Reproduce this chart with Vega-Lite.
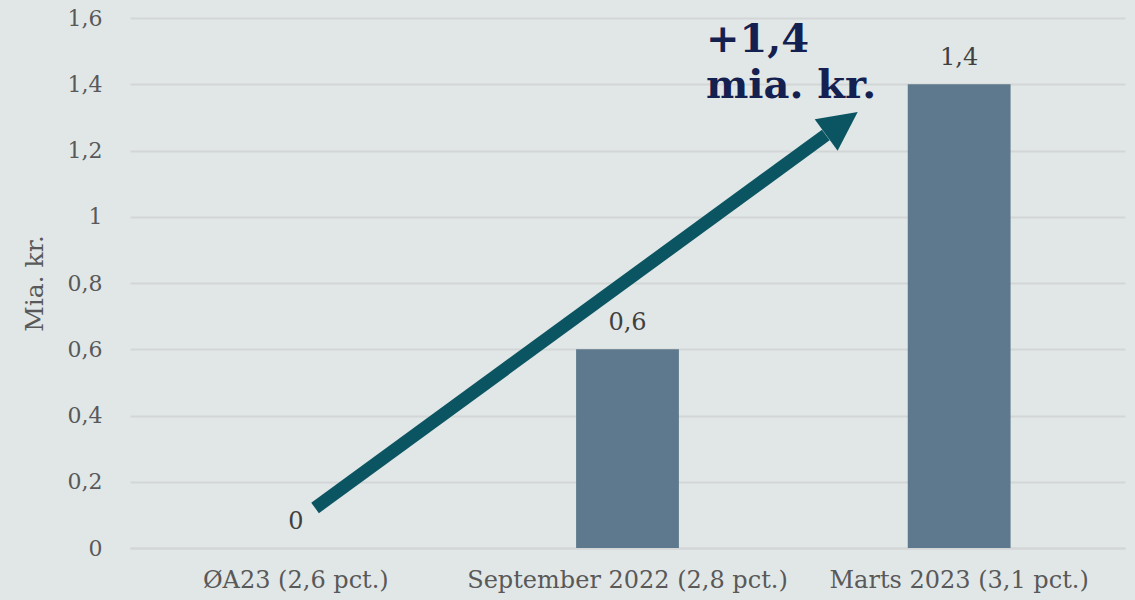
{
  "$schema": "https://vega.github.io/schema/vega-lite/v6.json",
  "width": 995,
  "height": 530,
  "autosize": {"type": "none"},
  "padding": {"left": 130, "top": 18, "right": 10, "bottom": 52},
  "background": "#e1e7e7",
  "config": {
    "view": {"stroke": null},
    "locale": {"number": {"decimal": ",", "thousands": ".", "grouping": [3], "currency": ["", " kr."]}},
    "font": "DejaVu Serif"
  },
  "resolve": {"scale": {"x": "independent"}},
  "layer": [
    {
      "data": {"values": [
        {"kategori": "ØA23 (2,6 pct.)", "value": 0},
        {"kategori": "September 2022 (2,8 pct.)", "value": 0.6},
        {"kategori": "Marts 2023 (3,1 pct.)", "value": 1.4}
      ]},
      "encoding": {
        "x": {"field": "kategori", "type": "nominal", "sort": null,
          "scale": {"paddingInner": 0, "paddingOuter": 0},
          "axis": {"title": null, "labelAngle": 0, "labelFontSize": 24, "labelColor": "#595959", "labelPadding": 20, "labelLimit": 0, "ticks": false, "domain": true, "domainColor": "#d3d6d6", "domainWidth": 2, "labelFont": "DejaVu Serif"}},
        "y": {"field": "value", "type": "quantitative",
          "scale": {"domain": [0, 1.6]},
          "axis": {"title": "Mia. kr.", "titleFontSize": 25, "titleFontWeight": "normal", "titleColor": "#595959", "titlePadding": 20, "titleFont": "DejaVu Serif",
            "values": [0, 0.2, 0.4, 0.6, 0.8, 1, 1.2, 1.4, 1.6], "format": ".1~f",
            "labelFontSize": 22, "labelColor": "#595959", "labelPadding": 28, "ticks": false, "domain": false,
            "grid": true, "gridColor": "#d3d6d6", "gridWidth": 2}}
      },
      "layer": [
        {"mark": {"type": "bar", "color": "#5e798d", "width": {"band": 0.31}}},
        {"mark": {"type": "text", "fontSize": 24, "color": "#404040", "baseline": "middle", "dy": -26, "font": "DejaVu Serif"},
          "encoding": {"text": {"field": "value", "type": "quantitative", "format": ".1~f"}}}
      ]
    },
    {
      "data": {"values": [
        {"px": 0.058, "py": 0.121, "px2": 1.598, "py2": 1.2468}
      ]},
      "mark": {"type": "rule", "color": "#0b5562", "strokeWidth": 13, "strokeCap": "butt"},
      "encoding": {
        "x": {"field": "px", "type": "quantitative", "scale": {"domain": [-0.5, 2.5]}, "axis": null},
        "y": {"field": "py", "type": "quantitative"},
        "x2": {"field": "px2"},
        "y2": {"field": "py2"}
      }
    },
    {
      "data": {"values": [
        {"px": 1.6465, "py": 1.2815}
      ]},
      "mark": {"type": "point", "shape": "M0,-1L1,1L-1,1Z", "filled": true, "color": "#0b5562", "opacity": 1, "size": 1521, "angle": 54},
      "encoding": {
        "x": {"field": "px", "type": "quantitative", "scale": {"domain": [-0.5, 2.5]}, "axis": null},
        "y": {"field": "py", "type": "quantitative"}
      }
    },
    {
      "data": {"values": [
        {"px": 1.2365, "py": 1.497, "tekst": "+1,4"},
        {"px": 1.2365, "py": 1.358, "tekst": "mia. kr."}
      ]},
      "mark": {"type": "text", "align": "left", "baseline": "alphabetic", "fontSize": 40, "fontWeight": "bold", "color": "#14204f", "font": "DejaVu Serif"},
      "encoding": {
        "x": {"field": "px", "type": "quantitative", "scale": {"domain": [-0.5, 2.5]}, "axis": null},
        "y": {"field": "py", "type": "quantitative"},
        "text": {"field": "tekst", "type": "nominal"}
      }
    }
  ]
}
